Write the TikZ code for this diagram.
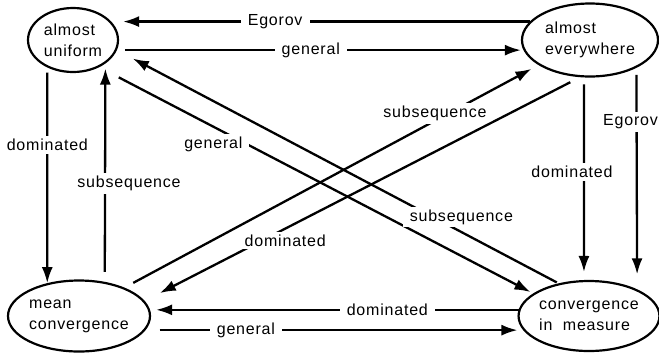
\documentclass[tikz,border=0pt]{standalone}
\usepackage{fontspec}
\setmainfont{Liberation Sans}[LetterSpace=5]
\usetikzlibrary{arrows.meta,shapes.geometric}

\begin{document}
\begin{tikzpicture}[x=1pt, y=-1pt,
  conv/.style={draw, ellipse, line width=2.2pt, inner sep=0pt, align=left, font=\fontsize{16}{21}\selectfont},
  imp/.style={line width=2.3pt, -{Latex[length=16pt,width=11pt]}},
  lbl/.style={fill=white, font=\fontsize{16}{18}\selectfont, inner xsep=7pt, inner ysep=3pt}
]
  \useasboundingbox (0,0) rectangle (659,354);

  \node[conv, minimum width=90pt, minimum height=64pt] (au) at (73,40) {almost\\uniform};
  \node[conv, minimum width=136pt, minimum height=73pt] (ae) at (590,40) {almost\\everywhere};
  \node[conv, minimum width=142pt, minimum height=71pt] (mc) at (79,316) {mean\\convergence};
  \node[conv, minimum width=137pt, minimum height=70pt] (cm) at (589,316) {convergence\\in\ \ measure};

  % top and bottom
  \draw[imp, shorten >=4pt] (ae.163) -- (au.east |- ae.163) node[lbl, pos=0.62] {Egorov};
  \draw[imp, shorten <=8pt] (au.-13) -- (ae.west |- au.-13) node[lbl, pos=0.48] {general};
  \draw[imp, shorten >=5pt] (cm.175) -- (mc.east |- cm.175) node[lbl, pos=0.357] {dominated};
  \draw[imp, shorten <=14pt] (mc.-12) -- (cm.west |- mc.-12) node[lbl, pos=0.27] {general};

  % left and right
  \draw[imp, shorten <=5pt] (au.-133) -- (mc.134) node[lbl, pos=0.36] {dominated};
  \draw[imp, shorten <=10pt, shorten >=5pt] (mc.53) -- (au.-36.8) node[lbl, pos=0.45, xshift=24pt] {subsequence};
  \draw[imp, shorten <=7pt, shorten >=8pt] (ae.-99.4) -- (cm.98.2) node[lbl, pos=0.467, xshift=-12pt] {dominated};
  \draw[imp, shorten <=7pt, shorten >=15pt] (ae.-31.3) -- (cm.29.4) node[lbl, pos=0.245, xshift=-6pt] {Egorov};

  % diagonals
  \draw[imp, shorten <=22pt, shorten >=3pt] (au.-46.7) -- (cm.158.4) node[lbl, pos=0.263, yshift=-18pt] {general};
  \draw[imp, shorten <=2pt, shorten >=18pt] (cm.133.4) -- (au.-13) node[lbl, pos=0.22, yshift=15pt] {subsequence};
  \draw[imp, shorten <=10pt, shorten >=8pt] (mc.32.9) -- (ae.-154.5) node[lbl, pos=0.75, yshift=7pt] {subsequence};
  \draw[imp, shorten <=11pt, shorten >=17pt] (ae.-105.5) -- (mc.13.7) node[lbl, pos=0.677, yshift=-12pt] {dominated};
\end{tikzpicture}
\end{document}
